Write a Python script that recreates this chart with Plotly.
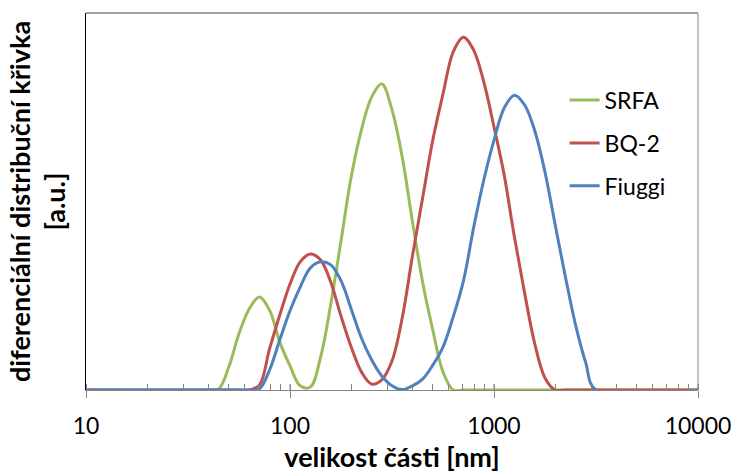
import plotly.graph_objects as go

# particle size grid [nm] (log-spaced) and differential distribution [a.u.]
size_nm = [10, 39.8, 44.7, 50.1, 56.2, 63.1, 70.8, 79.4, 89.1, 100, 112.2, 125.9, 141.3,
           158.5, 177.8, 199.5, 223.9, 251.2, 281.8, 316.2, 354.8, 398.1, 446.7, 501.2,
           562.3, 631.0, 707.9, 794.3, 891.3, 1000, 1122, 1259, 1413, 1585, 1778, 1995,
           2239, 2512, 2818, 3162, 10000]

srfa = [0, 0, 0.3, 6.1, 14.9, 21.5, 24.7, 21.2, 12.7, 6.4, 1.1, 0.8, 8.8,
        22.8, 39.5, 56.5, 69.0, 77.7, 81.2, 74.3, 61.8, 44.8, 28.6, 15.9,
        4.8, 0, 0, 0, 0, 0, 0, 0, 0, 0, 0, 0,
        0, 0, 0, 0, 0]

bq2 = [0, 0, 0, 0, 0, 0, 1.3, 10.9, 19.9, 28.1, 34.0, 36.1, 34.5,
       28.6, 19.6, 11.4, 4.8, 1.6, 2.7, 7.7, 19.1, 35.5, 50.9, 66.3,
       78.5, 89.7, 93.6, 90.2, 81.7, 69.8, 57.0, 40.6, 25.7, 12.2, 3.2, 0,
       0, 0, 0, 0, 0]

fiuggi = [0, 0, 0, 0, 0, 0, 0.3, 5.3, 13.3, 21.0, 27.3, 32.4, 34.0,
          33.2, 29.0, 21.5, 13.8, 8.0, 3.7, 1.1, 0.1, 1.1, 2.9, 6.6,
          11.4, 19.4, 28.9, 43.0, 55.7, 66.3, 74.8, 78.2, 75.6, 68.7, 57.8, 43.8,
          30.0, 17.2, 7.2, 0, 0]

names = ["SRFA", "BQ-2", "Fiuggi"]
colors = ["#9BBB59", "#C0504D", "#4F81BD"]
series = [srfa, bq2, fiuggi]

tick_vals = [10, 100, 1000, 10000]
tick_text = ["10", "100", "1000", "10000"]

FONT = "Lato"
axis_gray = "#868686"

fig = go.Figure()
for n, c, y in zip(names, colors, series):
    fig.add_trace(go.Scatter(
        x=size_nm, y=y, name=n, mode="lines",
        line=dict(color=c, width=3, shape="spline", smoothing=1.0),
        legendgroup=n,
    ))

fig.update_layout(
    width=731, height=473,
    margin=dict(l=86, r=33, t=13, b=83, autoexpand=False),
    paper_bgcolor="white", plot_bgcolor="white",
    font=dict(family=FONT, color="#000000", size=23),
    showlegend=True,
    legend=dict(
        x=0.782, y=0.826, xanchor="left", yanchor="top",
        bgcolor="rgba(0,0,0,0)", borderwidth=0,
        font=dict(family=FONT, size=23, color="#000"),
        traceorder="grouped", tracegroupgap=10,
        itemwidth=30,
    ),
    xaxis=dict(
        type="log", range=[1, 4], automargin=False,
        tickvals=tick_vals, ticktext=tick_text,
        ticks="outside", ticklen=7, tickwidth=1, tickcolor=axis_gray,
        showline=True, linecolor=axis_gray, linewidth=1,
        showgrid=False, zeroline=False, mirror=False,
        tickfont=dict(family=FONT, size=23, color="#000"),
        ticklabelstandoff=8, ticklabeloverflow="allow",
        minor=dict(ticks="inside", ticklen=6, tickcolor=axis_gray, tickwidth=1,
                   showgrid=False, dtick="D1"),
        title=dict(text="<b>velikost části [nm]</b>",
                   font=dict(family=FONT, size=27, color="#000"), standoff=15),
    ),
    yaxis=dict(
        range=[0, 100], showticklabels=False, ticks="", automargin=False,
        showline=True, linecolor="#000000", linewidth=1,
        showgrid=False, zeroline=False,
        title=dict(text="<b>diferenciální distribuční křivka<br>[a.u.]</b>",
                   font=dict(family=FONT, size=27, color="#000"), standoff=11),
    ),
)

# plot frame (top and right edges)
fig.add_shape(type="line", xref="paper", yref="paper", x0=0, x1=1, y0=1, y1=1,
              line=dict(color="#404040", width=1))
fig.add_shape(type="line", xref="paper", yref="paper", x0=1, x1=1, y0=0, y1=1,
              line=dict(color=axis_gray, width=1))
# inside part of the major ticks (ticks cross the axis)
for tv in tick_vals:
    fig.add_shape(type="line", xref="x", yref="paper", x0=tv, x1=tv, y0=0, y1=0.016,
                  line=dict(color=axis_gray, width=1))

fig.write_html("out.html")
